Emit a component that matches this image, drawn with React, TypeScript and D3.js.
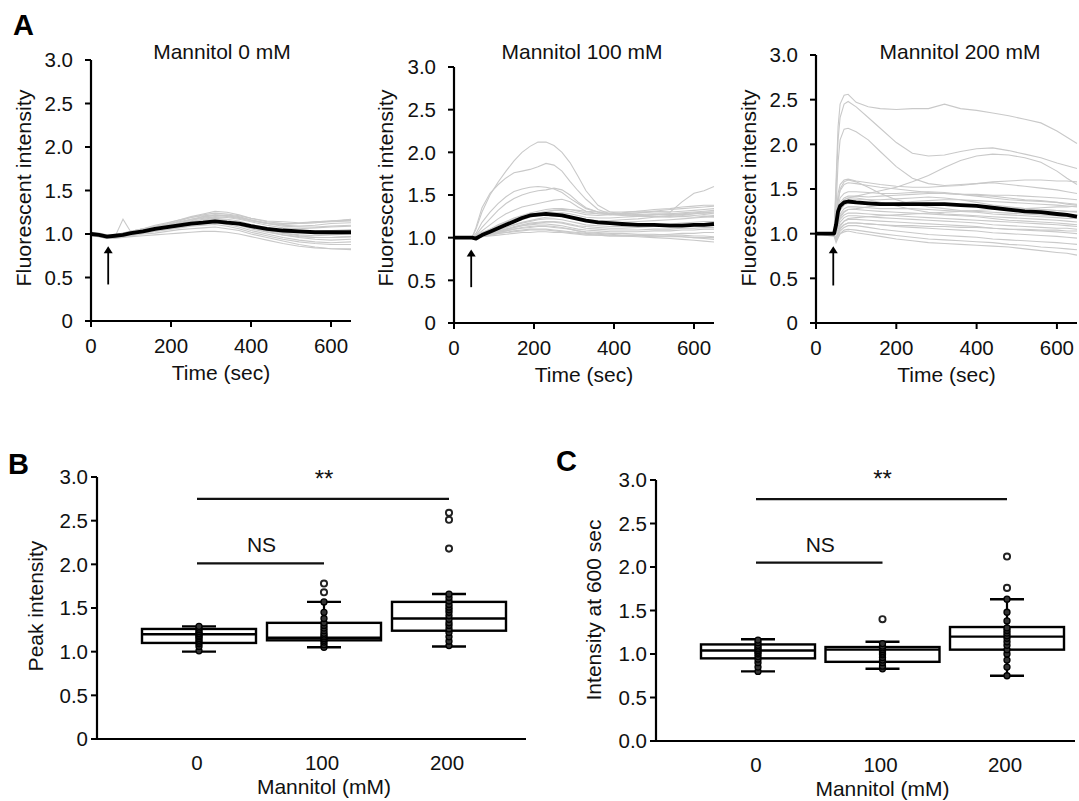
import React from "react";
import * as d3 from "d3";

// ---------- Panel A: time courses (time in sec, normalised fluorescence) ----------
const TIMES_0 = [0, 20, 40, 60, 80, 100, 130, 160, 190, 220, 250, 280, 310, 340, 370, 400, 440, 480, 520, 560, 600, 650];
const TRACES_0 = [
  [1.00, 0.99, 0.98, 0.99, 1.01, 1.03, 1.06, 1.10, 1.13, 1.16, 1.19, 1.22, 1.24, 1.23, 1.21, 1.18, 1.15, 1.14, 1.13, 1.14, 1.15, 1.16],
  [1.01, 1.00, 0.98, 0.97, 0.99, 1.01, 1.04, 1.08, 1.11, 1.14, 1.17, 1.19, 1.22, 1.21, 1.19, 1.16, 1.12, 1.10, 1.09, 1.10, 1.12, 1.13],
  [0.99, 0.98, 0.96, 0.97, 0.98, 1.00, 1.02, 1.05, 1.08, 1.10, 1.13, 1.15, 1.17, 1.16, 1.13, 1.09, 1.05, 1.01, 0.98, 0.96, 0.96, 0.97],
  [1.00, 0.99, 0.97, 0.98, 1.00, 1.02, 1.05, 1.07, 1.10, 1.12, 1.14, 1.16, 1.18, 1.17, 1.15, 1.11, 1.07, 1.04, 1.02, 1.01, 1.02, 1.03],
  [1.02, 1.01, 0.99, 0.98, 1.00, 1.03, 1.06, 1.08, 1.11, 1.13, 1.16, 1.18, 1.20, 1.19, 1.17, 1.14, 1.10, 1.07, 1.06, 1.07, 1.08, 1.09],
  [0.98, 0.97, 0.95, 0.96, 0.97, 0.99, 1.01, 1.03, 1.05, 1.07, 1.09, 1.10, 1.11, 1.09, 1.06, 1.02, 0.98, 0.94, 0.91, 0.89, 0.88, 0.88],
  [1.00, 0.98, 0.97, 0.97, 0.99, 1.00, 1.02, 1.04, 1.06, 1.08, 1.10, 1.12, 1.13, 1.11, 1.08, 1.04, 1.00, 0.96, 0.93, 0.91, 0.90, 0.91],
  [0.99, 0.98, 0.97, 0.96, 0.97, 0.98, 1.00, 1.01, 1.03, 1.05, 1.06, 1.07, 1.08, 1.06, 1.04, 1.00, 0.96, 0.92, 0.88, 0.85, 0.83, 0.82],
  [1.00, 0.99, 0.98, 0.99, 1.00, 1.01, 1.03, 1.06, 1.08, 1.11, 1.14, 1.17, 1.19, 1.20, 1.18, 1.15, 1.12, 1.11, 1.12, 1.14, 1.15, 1.17],
  [1.01, 1.00, 0.99, 0.98, 1.00, 1.02, 1.05, 1.09, 1.12, 1.16, 1.20, 1.23, 1.26, 1.25, 1.22, 1.18, 1.14, 1.12, 1.12, 1.13, 1.14, 1.15],
  [0.99, 0.98, 0.96, 0.97, 1.17, 1.02, 1.04, 1.07, 1.09, 1.12, 1.14, 1.16, 1.17, 1.15, 1.12, 1.08, 1.04, 1.01, 0.99, 0.98, 0.99, 1.00],
  [1.00, 1.00, 0.98, 0.98, 0.99, 1.01, 1.03, 1.06, 1.09, 1.12, 1.15, 1.20, 1.18, 1.14, 1.11, 1.07, 1.03, 0.99, 0.96, 0.94, 0.93, 0.94],
  [1.00, 0.99, 0.98, 0.98, 1.00, 1.01, 1.04, 1.06, 1.09, 1.11, 1.13, 1.14, 1.15, 1.14, 1.12, 1.09, 1.06, 1.04, 1.03, 1.03, 1.04, 1.05],
  [0.98, 0.97, 0.95, 0.95, 0.96, 0.97, 0.98, 0.99, 1.00, 1.01, 1.02, 1.03, 1.03, 1.02, 1.00, 0.97, 0.93, 0.89, 0.86, 0.84, 0.83, 0.83],
  [1.01, 1.00, 0.99, 0.99, 1.01, 1.03, 1.06, 1.08, 1.11, 1.15, 1.19, 1.21, 1.22, 1.21, 1.19, 1.16, 1.13, 1.12, 1.12, 1.13, 1.15, 1.16],
  [1.00, 0.99, 0.97, 0.97, 0.98, 1.00, 1.02, 1.05, 1.07, 1.10, 1.12, 1.13, 1.14, 1.13, 1.10, 1.06, 1.02, 0.99, 0.97, 0.96, 0.96, 0.97],
  [0.99, 0.98, 0.97, 0.98, 0.99, 1.01, 1.03, 1.06, 1.10, 1.13, 1.17, 1.20, 1.21, 1.22, 1.20, 1.16, 1.12, 1.09, 1.08, 1.08, 1.09, 1.10],
  [1.00, 0.99, 0.97, 0.96, 0.98, 1.00, 1.02, 1.04, 1.07, 1.09, 1.11, 1.12, 1.13, 1.12, 1.10, 1.07, 1.04, 1.02, 1.01, 1.01, 1.01, 1.02],
];
const MEAN_0 = [1.00, 0.99, 0.97, 0.98, 0.99, 1.01, 1.03, 1.06, 1.08, 1.10, 1.12, 1.13, 1.145, 1.13, 1.12, 1.09, 1.06, 1.04, 1.03, 1.02, 1.02, 1.02];

const TIMES_100 = [0, 45, 55, 70, 90, 110, 130, 150, 170, 190, 210, 230, 250, 270, 290, 310, 330, 360, 390, 420, 460, 500, 540, 570, 600, 625, 650];
const TRACES_100 = [
  [1.00, 1.00, 1.10, 1.30, 1.50, 1.65, 1.78, 1.90, 2.00, 2.07, 2.12, 2.12, 2.08, 2.00, 1.88, 1.72, 1.55, 1.38, 1.30, 1.28, 1.27, 1.28, 1.27, 1.28, 1.29, 1.30, 1.30],
  [1.00, 1.00, 1.12, 1.35, 1.52, 1.62, 1.70, 1.76, 1.78, 1.80, 1.83, 1.87, 1.85, 1.78, 1.66, 1.55, 1.45, 1.33, 1.28, 1.27, 1.26, 1.25, 1.26, 1.25, 1.26, 1.27, 1.26],
  [1.00, 1.00, 1.05, 1.18, 1.30, 1.40, 1.48, 1.54, 1.57, 1.59, 1.60, 1.59, 1.57, 1.53, 1.46, 1.40, 1.34, 1.30, 1.28, 1.27, 1.26, 1.27, 1.28, 1.27, 1.28, 1.29, 1.28],
  [1.00, 1.00, 1.03, 1.12, 1.22, 1.32, 1.40, 1.46, 1.50, 1.53, 1.55, 1.56, 1.58, 1.56, 1.50, 1.42, 1.35, 1.30, 1.27, 1.26, 1.25, 1.25, 1.24, 1.25, 1.24, 1.25, 1.24],
  [1.00, 1.00, 1.02, 1.08, 1.15, 1.22, 1.28, 1.32, 1.36, 1.38, 1.40, 1.42, 1.44, 1.45, 1.42, 1.36, 1.31, 1.28, 1.27, 1.28, 1.29, 1.30, 1.30, 1.31, 1.32, 1.33, 1.34],
  [1.00, 1.00, 1.02, 1.06, 1.10, 1.14, 1.18, 1.22, 1.25, 1.27, 1.28, 1.30, 1.32, 1.33, 1.33, 1.32, 1.31, 1.30, 1.30, 1.30, 1.31, 1.31, 1.30, 1.42, 1.52, 1.55, 1.60],
  [1.00, 1.00, 1.01, 1.05, 1.09, 1.13, 1.17, 1.21, 1.24, 1.27, 1.29, 1.31, 1.32, 1.32, 1.31, 1.29, 1.27, 1.26, 1.27, 1.28, 1.29, 1.31, 1.33, 1.34, 1.35, 1.36, 1.37],
  [1.00, 1.00, 1.01, 1.04, 1.08, 1.12, 1.16, 1.20, 1.23, 1.25, 1.27, 1.28, 1.28, 1.27, 1.25, 1.23, 1.21, 1.20, 1.20, 1.21, 1.22, 1.24, 1.25, 1.26, 1.28, 1.29, 1.30],
  [1.00, 1.00, 1.00, 1.03, 1.06, 1.09, 1.12, 1.15, 1.17, 1.19, 1.21, 1.22, 1.22, 1.21, 1.19, 1.17, 1.15, 1.14, 1.13, 1.13, 1.14, 1.15, 1.16, 1.17, 1.18, 1.19, 1.19],
  [1.00, 0.99, 1.00, 1.02, 1.05, 1.07, 1.10, 1.12, 1.14, 1.16, 1.17, 1.18, 1.18, 1.17, 1.15, 1.13, 1.11, 1.10, 1.09, 1.09, 1.09, 1.10, 1.10, 1.11, 1.11, 1.12, 1.12],
  [1.00, 1.00, 1.00, 1.02, 1.04, 1.06, 1.08, 1.10, 1.11, 1.12, 1.13, 1.13, 1.12, 1.11, 1.10, 1.08, 1.07, 1.06, 1.05, 1.05, 1.04, 1.04, 1.03, 1.03, 1.02, 1.02, 1.01],
  [1.00, 1.00, 1.00, 1.01, 1.03, 1.05, 1.06, 1.08, 1.09, 1.10, 1.10, 1.10, 1.09, 1.08, 1.07, 1.06, 1.05, 1.04, 1.03, 1.02, 1.01, 1.00, 0.99, 0.98, 0.97, 0.96, 0.95],
  [1.00, 1.00, 1.01, 1.03, 1.06, 1.09, 1.12, 1.15, 1.18, 1.20, 1.22, 1.24, 1.25, 1.25, 1.24, 1.22, 1.20, 1.19, 1.18, 1.18, 1.19, 1.20, 1.21, 1.22, 1.23, 1.24, 1.25],
  [1.00, 1.00, 1.00, 1.02, 1.04, 1.07, 1.09, 1.12, 1.14, 1.15, 1.16, 1.16, 1.15, 1.14, 1.12, 1.10, 1.09, 1.08, 1.07, 1.07, 1.07, 1.08, 1.08, 1.09, 1.09, 1.10, 1.10],
  [1.00, 1.00, 1.00, 1.01, 1.02, 1.03, 1.04, 1.05, 1.06, 1.06, 1.07, 1.07, 1.06, 1.06, 1.05, 1.04, 1.03, 1.03, 1.02, 1.02, 1.02, 1.01, 1.01, 1.01, 1.00, 1.00, 1.00],
  [1.00, 1.00, 1.01, 1.04, 1.07, 1.11, 1.14, 1.18, 1.21, 1.24, 1.26, 1.28, 1.29, 1.29, 1.28, 1.26, 1.24, 1.23, 1.23, 1.24, 1.25, 1.27, 1.28, 1.29, 1.30, 1.31, 1.32],
  [1.00, 1.00, 1.00, 1.03, 1.05, 1.08, 1.10, 1.13, 1.15, 1.17, 1.18, 1.19, 1.19, 1.18, 1.16, 1.14, 1.13, 1.12, 1.11, 1.11, 1.12, 1.13, 1.13, 1.14, 1.15, 1.15, 1.16],
  [1.00, 1.00, 1.00, 1.02, 1.03, 1.05, 1.06, 1.07, 1.08, 1.09, 1.09, 1.09, 1.08, 1.07, 1.06, 1.05, 1.04, 1.03, 1.02, 1.02, 1.03, 1.03, 1.04, 1.05, 1.05, 1.06, 1.06],
  [1.00, 1.00, 1.01, 1.05, 1.10, 1.15, 1.19, 1.23, 1.26, 1.29, 1.31, 1.33, 1.34, 1.34, 1.33, 1.31, 1.29, 1.28, 1.28, 1.29, 1.31, 1.33, 1.34, 1.36, 1.37, 1.38, 1.38],
  [1.00, 1.00, 1.00, 1.02, 1.04, 1.06, 1.08, 1.10, 1.12, 1.13, 1.14, 1.14, 1.13, 1.12, 1.10, 1.08, 1.06, 1.05, 1.04, 1.03, 1.03, 1.02, 1.02, 1.01, 1.00, 0.99, 0.98],
];
const MEAN_100 = [1.00, 1.00, 0.99, 1.03, 1.07, 1.11, 1.15, 1.19, 1.23, 1.26, 1.27, 1.28, 1.27, 1.26, 1.24, 1.22, 1.20, 1.18, 1.17, 1.16, 1.15, 1.15, 1.14, 1.14, 1.15, 1.15, 1.16];

const TIMES_200 = [0, 45, 50, 55, 60, 70, 80, 100, 130, 160, 200, 240, 280, 320, 360, 400, 440, 480, 520, 560, 600, 625, 650];
const TRACES_200 = [
  [1.00, 1.00, 1.60, 2.20, 2.45, 2.55, 2.56, 2.47, 2.42, 2.40, 2.39, 2.40, 2.40, 2.45, 2.40, 2.38, 2.35, 2.32, 2.28, 2.24, 2.15, 2.08, 2.01],
  [1.00, 1.00, 1.50, 2.05, 2.30, 2.45, 2.48, 2.42, 2.30, 2.18, 2.02, 1.90, 1.87, 1.88, 1.92, 1.95, 1.96, 1.93, 1.89, 1.85, 1.79, 1.76, 1.73],
  [1.00, 1.00, 1.30, 1.80, 2.05, 2.17, 2.18, 2.14, 2.05, 1.92, 1.75, 1.62, 1.56, 1.54, 1.55, 1.56, 1.57, 1.55, 1.53, 1.51, 1.49, 1.47, 1.45],
  [1.00, 1.00, 1.10, 1.25, 1.32, 1.38, 1.40, 1.42, 1.45, 1.48, 1.52, 1.58, 1.65, 1.74, 1.82, 1.87, 1.89, 1.88, 1.85, 1.80, 1.70, 1.62, 1.55],
  [1.00, 1.00, 1.20, 1.45, 1.55, 1.60, 1.61, 1.59, 1.57, 1.55, 1.53, 1.52, 1.52, 1.53, 1.54, 1.56, 1.58, 1.59, 1.60, 1.60, 1.59, 1.59, 1.58],
  [1.00, 1.00, 1.15, 1.38, 1.48, 1.55, 1.57, 1.56, 1.54, 1.52, 1.50, 1.48, 1.46, 1.45, 1.44, 1.44, 1.43, 1.43, 1.42, 1.41, 1.40, 1.39, 1.38],
  [1.00, 1.00, 1.10, 1.30, 1.40, 1.45, 1.47, 1.47, 1.46, 1.45, 1.45, 1.46, 1.47, 1.46, 1.44, 1.42, 1.40, 1.38, 1.37, 1.36, 1.35, 1.34, 1.33],
  [1.00, 1.00, 1.08, 1.25, 1.35, 1.40, 1.42, 1.42, 1.41, 1.42, 1.43, 1.44, 1.45, 1.45, 1.44, 1.43, 1.42, 1.40, 1.38, 1.37, 1.35, 1.33, 1.32],
  [1.00, 1.00, 1.05, 1.20, 1.30, 1.36, 1.38, 1.38, 1.38, 1.38, 1.39, 1.40, 1.41, 1.40, 1.38, 1.35, 1.32, 1.30, 1.28, 1.27, 1.26, 1.25, 1.25],
  [1.00, 1.00, 1.05, 1.18, 1.26, 1.32, 1.34, 1.34, 1.33, 1.33, 1.33, 1.34, 1.34, 1.33, 1.32, 1.31, 1.30, 1.29, 1.28, 1.27, 1.26, 1.25, 1.24],
  [1.00, 1.00, 1.04, 1.15, 1.22, 1.28, 1.30, 1.30, 1.29, 1.28, 1.28, 1.28, 1.27, 1.26, 1.25, 1.24, 1.22, 1.21, 1.20, 1.19, 1.18, 1.17, 1.17],
  [1.00, 1.00, 1.03, 1.12, 1.20, 1.25, 1.27, 1.27, 1.26, 1.25, 1.24, 1.23, 1.22, 1.21, 1.20, 1.19, 1.17, 1.15, 1.14, 1.13, 1.12, 1.11, 1.10],
  [1.00, 1.00, 1.02, 1.10, 1.16, 1.21, 1.23, 1.23, 1.22, 1.21, 1.20, 1.19, 1.18, 1.17, 1.16, 1.15, 1.14, 1.13, 1.12, 1.11, 1.10, 1.09, 1.08],
  [1.00, 1.00, 1.02, 1.08, 1.13, 1.18, 1.20, 1.20, 1.19, 1.18, 1.17, 1.16, 1.15, 1.14, 1.13, 1.12, 1.10, 1.09, 1.08, 1.07, 1.06, 1.06, 1.05],
  [1.00, 1.00, 1.00, 1.05, 1.10, 1.14, 1.16, 1.16, 1.15, 1.14, 1.13, 1.12, 1.11, 1.10, 1.09, 1.08, 1.06, 1.05, 1.04, 1.03, 1.02, 1.01, 1.00],
  [1.00, 0.98, 0.95, 1.00, 1.05, 1.10, 1.12, 1.12, 1.11, 1.10, 1.08, 1.07, 1.06, 1.05, 1.04, 1.03, 1.01, 1.00, 0.99, 0.98, 0.97, 0.96, 0.95],
  [1.00, 0.98, 0.93, 0.98, 1.03, 1.07, 1.09, 1.09, 1.07, 1.05, 1.03, 1.01, 0.99, 0.98, 0.97, 0.96, 0.94, 0.93, 0.92, 0.91, 0.90, 0.89, 0.88],
  [1.00, 0.97, 0.90, 0.95, 1.00, 1.04, 1.05, 1.04, 1.02, 1.00, 0.98, 0.96, 0.94, 0.93, 0.92, 0.91, 0.90, 0.88, 0.87, 0.85, 0.84, 0.83, 0.82],
  [1.00, 0.98, 0.92, 0.96, 1.00, 1.02, 1.03, 1.01, 0.99, 0.97, 0.94, 0.92, 0.90, 0.89, 0.88, 0.87, 0.86, 0.85, 0.83, 0.81, 0.79, 0.78, 0.76],
  [1.00, 1.00, 1.05, 1.22, 1.32, 1.38, 1.40, 1.40, 1.38, 1.35, 1.31, 1.27, 1.24, 1.22, 1.21, 1.20, 1.19, 1.18, 1.17, 1.16, 1.15, 1.14, 1.13],
  [1.00, 1.00, 1.10, 1.35, 1.50, 1.58, 1.60, 1.58, 1.52, 1.45, 1.38, 1.33, 1.30, 1.28, 1.26, 1.25, 1.24, 1.23, 1.22, 1.21, 1.20, 1.19, 1.18],
  [1.00, 0.99, 0.96, 1.02, 1.08, 1.14, 1.17, 1.18, 1.19, 1.20, 1.21, 1.22, 1.23, 1.24, 1.25, 1.26, 1.27, 1.28, 1.28, 1.29, 1.30, 1.30, 1.31],
  [1.00, 1.00, 1.03, 1.12, 1.18, 1.24, 1.27, 1.28, 1.30, 1.32, 1.34, 1.36, 1.37, 1.38, 1.38, 1.37, 1.36, 1.35, 1.34, 1.33, 1.32, 1.31, 1.30],
  [1.00, 0.99, 0.94, 1.00, 1.06, 1.10, 1.12, 1.12, 1.11, 1.10, 1.09, 1.09, 1.08, 1.08, 1.07, 1.07, 1.06, 1.05, 1.05, 1.04, 1.04, 1.03, 1.03],
];
const MEAN_200 = [1.00, 1.00, 1.10, 1.25, 1.31, 1.35, 1.36, 1.35, 1.34, 1.33, 1.33, 1.33, 1.33, 1.33, 1.32, 1.31, 1.29, 1.27, 1.25, 1.24, 1.22, 1.21, 1.19];

const TRACE_TITLES = ["Mannitol 0 mM", "Mannitol 100 mM", "Mannitol 200 mM"];
const TRACE_Y_TICKS = [0, 0.5, 1, 1.5, 2, 2.5, 3];
const TIME_TICKS = [0, 200, 400, 600];
const STIMULUS_TIME = 43;

// ---------- Panels B and C: box plots by mannitol dose ----------
const DOSES = ["0", "100", "200"];
const BOX_Y_TICKS = [0, 0.5, 1, 1.5, 2, 2.5, 3];

const PEAK_LOW = [1.0, 1.05, 1.06];
const PEAK_Q1 = [1.1, 1.13, 1.24];
const PEAK_MEDIAN = [1.2, 1.16, 1.38];
const PEAK_Q3 = [1.26, 1.33, 1.57];
const PEAK_HIGH = [1.29, 1.57, 1.66];
const PEAK_POINTS = [
  [1.01, 1.06, 1.09, 1.11, 1.13, 1.15, 1.17, 1.18, 1.2, 1.21, 1.23, 1.25, 1.27, 1.29],
  [1.05, 1.08, 1.11, 1.13, 1.15, 1.17, 1.19, 1.21, 1.24, 1.27, 1.3, 1.33, 1.38, 1.45, 1.57],
  [1.07, 1.12, 1.17, 1.22, 1.26, 1.3, 1.33, 1.37, 1.41, 1.45, 1.48, 1.51, 1.54, 1.58, 1.62, 1.66],
];
const PEAK_OUTLIERS = [[], [1.68, 1.78], [2.18, 2.51, 2.59]];
const PEAK_BRACKETS = [
  { from: 0, to: 1, level: 2.01, label: "NS" },
  { from: 0, to: 2, level: 2.75, label: "**" },
];

const END_LOW = [0.8, 0.83, 0.75];
const END_Q1 = [0.95, 0.91, 1.05];
const END_MEDIAN = [1.04, 1.05, 1.2];
const END_Q3 = [1.11, 1.08, 1.31];
const END_HIGH = [1.17, 1.14, 1.63];
const END_POINTS = [
  [0.8, 0.85, 0.9, 0.94, 0.97, 1.0, 1.02, 1.04, 1.06, 1.08, 1.1, 1.13, 1.16],
  [0.83, 0.86, 0.9, 0.93, 0.96, 0.99, 1.01, 1.03, 1.05, 1.07, 1.09, 1.12],
  [0.75, 0.85, 0.93, 1.0, 1.05, 1.1, 1.14, 1.18, 1.21, 1.24, 1.27, 1.3, 1.38, 1.48, 1.63],
];
const END_OUTLIERS = [[], [1.4], [1.76, 2.12]];
const END_BRACKETS = [
  { from: 0, to: 1, level: 2.05, label: "NS" },
  { from: 0, to: 2, level: 2.78, label: "**" },
];

const FONT = "'Liberation Sans', Arial, Helvetica, sans-serif";
const GRAY = "#c9c9c9";
const TICK_FS = 20.5;
const LABEL_FS = 21;

type TraceLayout = {
  x0: number; x1: number; yTop: number; yBot: number;
  titleX: number; yTitleX: number; yTitleY: number;
};

const TRACE_LAYOUTS: TraceLayout[] = [
  { x0: 91, x1: 351, yTop: 60, yBot: 321, titleX: 222, yTitleX: 23, yTitleY: 188 },
  { x0: 454, x1: 714, yTop: 67, yBot: 323, titleX: 582, yTitleX: 385, yTitleY: 188 },
  { x0: 816, x1: 1077, yTop: 55, yBot: 323, titleX: 960, yTitleX: 748, yTitleY: 188 },
];

function TracePanel({ layout, times, traces, mean, title, idx }: {
  layout: TraceLayout; times: number[]; traces: number[][]; mean: number[]; title: string; idx: number;
}) {
  const x = d3.scaleLinear().domain([0, 650]).range([layout.x0, layout.x1]);
  const y = d3.scaleLinear().domain([0, 3]).range([layout.yBot, layout.yTop]);
  const line = d3.line<number>().x((_, i) => x(times[i])).y((d) => y(d));
  const clipId = `clipA${idx}`;
  const ax = x(STIMULUS_TIME);
  return (
    <g>
      <defs>
        <clipPath id={clipId}>
          <rect x={layout.x0} y={layout.yTop - 10} width={layout.x1 - layout.x0 + 2} height={layout.yBot - layout.yTop + 10} />
        </clipPath>
      </defs>
      <g clipPath={`url(#${clipId})`}>
        {traces.map((t, i) => (
          <path key={i} d={line(t) || ""} fill="none" stroke={GRAY} strokeWidth={1.1} />
        ))}
        <path d={line(mean) || ""} fill="none" stroke="#000" strokeWidth={3.8} strokeLinejoin="round" />
      </g>
      {/* stimulus arrow */}
      <line x1={ax} x2={ax} y1={y(0.42)} y2={y(0.8)} stroke="#000" strokeWidth={1.8} />
      <path d={`M${ax - 4.5},${y(0.78)} L${ax},${y(0.86)} L${ax + 4.5},${y(0.78)} Z`} fill="#000" />
      {/* axes */}
      <line x1={layout.x0} x2={layout.x0} y1={layout.yTop} y2={layout.yBot} stroke="#000" strokeWidth={2.2} />
      <line x1={layout.x0 - 6} x2={layout.x1} y1={layout.yBot} y2={layout.yBot} stroke="#000" strokeWidth={2.2} />
      {TRACE_Y_TICKS.map((v) => (
        <g key={v}>
          <line x1={layout.x0 - 6} x2={layout.x0} y1={y(v)} y2={y(v)} stroke="#000" strokeWidth={2} />
          <text x={layout.x0 - 18} y={y(v)} dy="0.36em" textAnchor="end" fontSize={TICK_FS} fontFamily={FONT} fill="#111">
            {v === 0 ? "0" : v.toFixed(1)}
          </text>
        </g>
      ))}
      {TIME_TICKS.map((v) => (
        <g key={v}>
          <line x1={x(v)} x2={x(v)} y1={layout.yBot} y2={layout.yBot + 6} stroke="#000" strokeWidth={2} />
          <text x={x(v)} y={layout.yBot + 32} textAnchor="middle" fontSize={TICK_FS} fontFamily={FONT} fill="#111">
            {v}
          </text>
        </g>
      ))}
      <text x={(layout.x0 + layout.x1) / 2} y={layout.yBot + 59} textAnchor="middle" fontSize={LABEL_FS} fontFamily={FONT} fill="#111">
        Time (sec)
      </text>
      <text x={layout.titleX} y={59} textAnchor="middle" fontSize={LABEL_FS} fontFamily={FONT} fill="#111">
        {title}
      </text>
      <text
        transform={`translate(${layout.yTitleX},${layout.yTitleY}) rotate(-90)`}
        textAnchor="middle"
        dominantBaseline="central"
        fontSize={20.5}
        fontFamily={FONT}
        fill="#111"
        textLength={197}
        lengthAdjust="spacingAndGlyphs"
      >
        Fluorescent intensity
      </text>
    </g>
  );
}

type BoxLayout = {
  x0: number; x1: number; yTop: number; yBot: number; first: number; last: number;
  yTitleX: number; yTitleY: number;
};

function BoxPanel({ layout, low, q1, median, q3, high, points, outliers, brackets, yTitle, zeroLabel }: {
  layout: BoxLayout; low: number[]; q1: number[]; median: number[]; q3: number[]; high: number[];
  points: number[][]; outliers: number[][]; brackets: { from: number; to: number; level: number; label: string }[];
  yTitle: string; zeroLabel: string;
}) {
  const x = d3.scalePoint<string>().domain(DOSES).range([layout.first, layout.last]);
  const y = d3.scaleLinear().domain([0, 3]).range([layout.yBot, layout.yTop]);
  const halfBox = 57;
  const halfCap = 17;
  return (
    <g>
      {/* significance brackets */}
      {brackets.map((b, i) => {
        const xa = x(DOSES[b.from])!;
        const xb = x(DOSES[b.to])!;
        const isStar = b.label === "**";
        return (
          <g key={i}>
            <line x1={xa - 2} x2={xb} y1={y(b.level)} y2={y(b.level)} stroke="#111" strokeWidth={2.2} />
            <text
              x={(xa + xb) / 2}
              y={y(b.level) - (isStar ? 12 : 11)}
              textAnchor="middle"
              fontSize={isStar ? 24 : LABEL_FS}
              fontFamily={FONT}
              fill="#111"
            >
              {b.label}
            </text>
          </g>
        );
      })}
      {DOSES.map((d, i) => {
        const cx = x(d)!;
        return (
          <g key={d}>
            <line x1={cx} x2={cx} y1={y(low[i])} y2={y(q1[i])} stroke="#000" strokeWidth={2.2} />
            <line x1={cx} x2={cx} y1={y(q3[i])} y2={y(high[i])} stroke="#000" strokeWidth={2.2} />
            <line x1={cx - halfCap} x2={cx + halfCap} y1={y(low[i])} y2={y(low[i])} stroke="#000" strokeWidth={2.4} />
            <line x1={cx - halfCap} x2={cx + halfCap} y1={y(high[i])} y2={y(high[i])} stroke="#000" strokeWidth={2.4} />
            <rect
              x={cx - halfBox}
              y={y(q3[i])}
              width={halfBox * 2}
              height={y(q1[i]) - y(q3[i])}
              fill="none"
              stroke="#000"
              strokeWidth={2.4}
            />
            <line x1={cx - halfBox} x2={cx + halfBox} y1={y(median[i])} y2={y(median[i])} stroke="#000" strokeWidth={2.4} />
            {points[i].map((v, j) => (
              <circle key={j} cx={cx} cy={y(v)} r={3} fill="#333" stroke="#000" strokeWidth={1.3} />
            ))}
            {outliers[i].map((v, j) => (
              <circle key={`o${j}`} cx={cx} cy={y(v)} r={3.1} fill="#fff" stroke="#222" strokeWidth={1.9} />
            ))}
          </g>
        );
      })}
      {/* axes */}
      <line x1={layout.x0} x2={layout.x0} y1={layout.yTop} y2={layout.yBot} stroke="#000" strokeWidth={2.2} />
      <line x1={layout.x0 - 6} x2={layout.x1} y1={layout.yBot} y2={layout.yBot} stroke="#000" strokeWidth={2.2} />
      {BOX_Y_TICKS.map((v) => (
        <g key={v}>
          <line x1={layout.x0 - 6} x2={layout.x0} y1={y(v)} y2={y(v)} stroke="#000" strokeWidth={2} />
          <text x={layout.x0 - 9} y={y(v)} dy="0.36em" textAnchor="end" fontSize={TICK_FS} fontFamily={FONT} fill="#111">
            {v === 0 ? zeroLabel : v.toFixed(1)}
          </text>
        </g>
      ))}
      {DOSES.map((d) => (
        <text key={d} x={x(d)! - 2} y={layout.yBot + 31} textAnchor="middle" fontSize={TICK_FS} fontFamily={FONT} fill="#111">
          {d}
        </text>
      ))}
      <text x={x(DOSES[1])!} y={layout.yBot + 55} textAnchor="middle" fontSize={LABEL_FS} fontFamily={FONT} fill="#111">
        Mannitol (mM)
      </text>
      <text
        transform={`translate(${layout.yTitleX},${layout.yTitleY}) rotate(-90)`}
        textAnchor="middle"
        dominantBaseline="central"
        fontSize={LABEL_FS}
        fontFamily={FONT}
        fill="#111"
      >
        {yTitle}
      </text>
    </g>
  );
}

const PEAK_LAYOUT: BoxLayout = { x0: 97, x1: 526, yTop: 477, yBot: 739, first: 199, last: 449, yTitleX: 35, yTitleY: 606 };
const END_LAYOUT: BoxLayout = { x0: 656, x1: 1075, yTop: 480, yBot: 741, first: 758, last: 1007, yTitleX: 593, yTitleY: 610 };

export default function App() {
  const timeSets = [TIMES_0, TIMES_100, TIMES_200];
  const traceSets = [TRACES_0, TRACES_100, TRACES_200];
  const meanSets = [MEAN_0, MEAN_100, MEAN_200];
  return (
    <svg
      width={1079}
      height={801}
      viewBox="0 0 1079 801"
      style={{ position: "absolute", left: 0, top: 0, background: "#fff" }}
    >
      <rect width={1079} height={801} fill="#fff" />
      {TRACE_LAYOUTS.map((l, i) => (
        <TracePanel key={i} idx={i} layout={l} times={timeSets[i]} traces={traceSets[i]} mean={meanSets[i]} title={TRACE_TITLES[i]} />
      ))}
      <BoxPanel
        layout={PEAK_LAYOUT}
        low={PEAK_LOW} q1={PEAK_Q1} median={PEAK_MEDIAN} q3={PEAK_Q3} high={PEAK_HIGH}
        points={PEAK_POINTS} outliers={PEAK_OUTLIERS} brackets={PEAK_BRACKETS}
        yTitle="Peak intensity" zeroLabel="0"
      />
      <BoxPanel
        layout={END_LAYOUT}
        low={END_LOW} q1={END_Q1} median={END_MEDIAN} q3={END_Q3} high={END_HIGH}
        points={END_POINTS} outliers={END_OUTLIERS} brackets={END_BRACKETS}
        yTitle="Intensity at 600 sec" zeroLabel="0.0"
      />
      <text x={13} y={35} fontSize={29} fontWeight="bold" fontFamily={FONT} fill="#000">A</text>
      <text x={8} y={474} fontSize={29} fontWeight="bold" fontFamily={FONT} fill="#000">B</text>
      <text x={556} y={471} fontSize={29} fontWeight="bold" fontFamily={FONT} fill="#000">C</text>
    </svg>
  );
}
